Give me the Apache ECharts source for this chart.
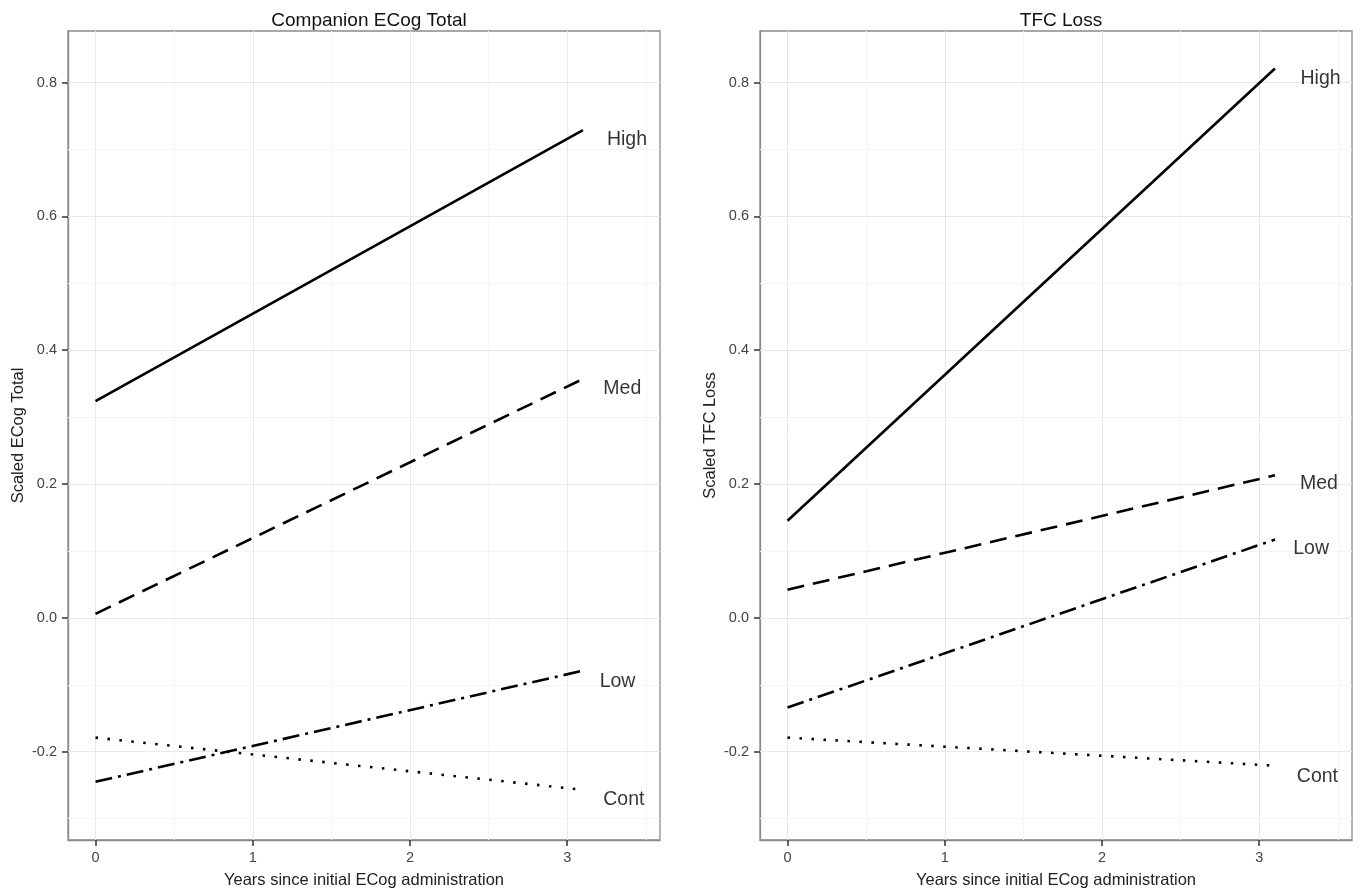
<!DOCTYPE html>
<html><head><meta charset="utf-8">
<script src="https://cdn.jsdelivr.net/npm/echarts@6/dist/echarts.min.js"></script>
<style>html,body{margin:0;padding:0;background:#fff}#c{width:1360px;height:894px}</style>
</head><body><div id="c"></div>
<script>
// ---- data ----
const panelTitles = ['Companion ECog Total', 'TFC Loss'];
const yAxisNames = ['Scaled ECog Total', 'Scaled TFC Loss'];
const xAxisName = 'Years since initial ECog administration';
const groups = ['High', 'Med', 'Low', 'Cont'];
const years = [0, 3.1];
const ecogHigh = [0.324, 0.729];
const ecogMed = [0.006, 0.357];
const ecogLow = [-0.245, -0.079];
const ecogCont = [-0.179, -0.257];
const tfcHigh = [0.145, 0.821];
const tfcMed = [0.042, 0.213];
const tfcLow = [-0.134, 0.117];
const tfcCont = [-0.179, -0.221];
const ecogLabelX = [3.38, 3.35, 3.32, 3.36];
const ecogLabelY = [0.715, 0.342, -0.095, -0.271];
const tfcLabelX = [3.39, 3.38, 3.33, 3.37];
const tfcLabelY = [0.806, 0.200, 0.104, -0.237];
const xTicks = [0, 1, 2, 3];
const yTicks = [-0.2, 0.0, 0.2, 0.4, 0.6, 0.8];
const xMinor = [0.5, 1.5, 2.5, 3.5];
const yMinor = [-0.3, -0.1, 0.1, 0.3, 0.5, 0.7];

// ---- styles ----
const lineTypes = ['solid', [17, 9], [17, 6, 3, 6], [2.5, 9.5]];
const font = 'Arial, "Liberation Sans", sans-serif';

const panels = [
  {vals: [ecogHigh, ecogMed, ecogLow, ecogCont], lx: ecogLabelX, ly: ecogLabelY},
  {vals: [tfcHigh, tfcMed, tfcLow, tfcCont], lx: tfcLabelX, ly: tfcLabelY}
];

const grids = [
  {left: 68, right: 700, top: 31, bottom: 51},
  {left: 760, right: 8, top: 31, bottom: 51}
].map(g => Object.assign(g, {show: true, borderColor: '#8a8a8a', borderWidth: 1.3, backgroundColor: 'transparent', containLabel: false}));

const xAxes = [0, 1].map(i => ({
  gridIndex: i, type: 'value', min: -0.175, max: 3.59,
  name: xAxisName, nameLocation: 'middle', nameGap: 32,
  nameTextStyle: {fontSize: 16.5, color: '#222', fontFamily: font},
  axisLine: {show: true, onZero: false, lineStyle: {color: '#8a8a8a', width: 1.3}},
  axisTick: {show: true, length: 6, inside: false, customValues: xTicks, lineStyle: {color: '#333', width: 1.5}},
  axisLabel: {customValues: xTicks, fontSize: 14.5, color: '#444', fontFamily: font, margin: 10},
  splitLine: {show: false}
}));
const yAxes = [0, 1].map(i => ({
  gridIndex: i, type: 'value', min: -0.332, max: 0.877,
  name: yAxisNames[i], nameLocation: 'middle', nameGap: 41, nameRotate: 90,
  nameTextStyle: {fontSize: 16.5, color: '#222', fontFamily: font},
  axisLine: {show: true, onZero: false, lineStyle: {color: '#8a8a8a', width: 1.3}},
  axisTick: {show: true, length: 6, inside: false, customValues: yTicks, lineStyle: {color: '#333', width: 1.5}},
  axisLabel: {customValues: yTicks, fontSize: 14.5, color: '#444', fontFamily: font, margin: 11,
    formatter: v => v.toFixed(1)},
  splitLine: {show: false}
}));

const series = [];
panels.forEach((p, i) => {
  // grid lines
  const gl = [];
  xMinor.forEach(v => gl.push({xAxis: v, lineStyle: {color: '#f5f5f5', width: 1, type: 'solid'}}));
  yMinor.forEach(v => gl.push({yAxis: v, lineStyle: {color: '#f5f5f5', width: 1, type: 'solid'}}));
  xTicks.forEach(v => gl.push({xAxis: v, lineStyle: {color: '#e8e8e8', width: 1, type: 'solid'}}));
  yTicks.forEach(v => gl.push({yAxis: v, lineStyle: {color: '#e8e8e8', width: 1, type: 'solid'}}));
  series.push({
    type: 'line', xAxisIndex: i, yAxisIndex: i, data: [], z: 1, silent: true,
    markLine: {z: 1, silent: true, symbol: ['none', 'none'], label: {show: false}, animation: false, data: gl}
  });
  p.vals.forEach((v, k) => {
    series.push({
      type: 'line', xAxisIndex: i, yAxisIndex: i, z: 3, symbol: 'none', animation: false,
      data: years.map((x, j) => [x, v[j]]),
      lineStyle: {color: '#000', width: 2.6, type: lineTypes[k], cap: 'butt'}
    });
  });
  series.push({
    type: 'scatter', xAxisIndex: i, yAxisIndex: i, z: 6, symbolSize: 0, animation: false, silent: true,
    data: groups.map((g, k) => ({name: g, value: [p.lx[k], p.ly[k]]})),
    label: {show: true, position: 'inside', formatter: d => d.name, fontSize: 19.5, color: '#000', fontFamily: font}
  });
});

const chart = echarts.init(document.getElementById('c'), null, {renderer: 'canvas'});
chart.setOption({
  animation: false,
  backgroundColor: '#fff',
  title: [
    {text: panelTitles[0], left: 364, top: 6, textAlign: 'center', textStyle: {fontSize: 19, fontWeight: 'normal', color: '#111', fontFamily: font}},
    {text: panelTitles[1], left: 1056, top: 6, textAlign: 'center', textStyle: {fontSize: 19, fontWeight: 'normal', color: '#111', fontFamily: font}}
  ],
  grid: grids, xAxis: xAxes, yAxis: yAxes, series: series
});
</script></body></html>
